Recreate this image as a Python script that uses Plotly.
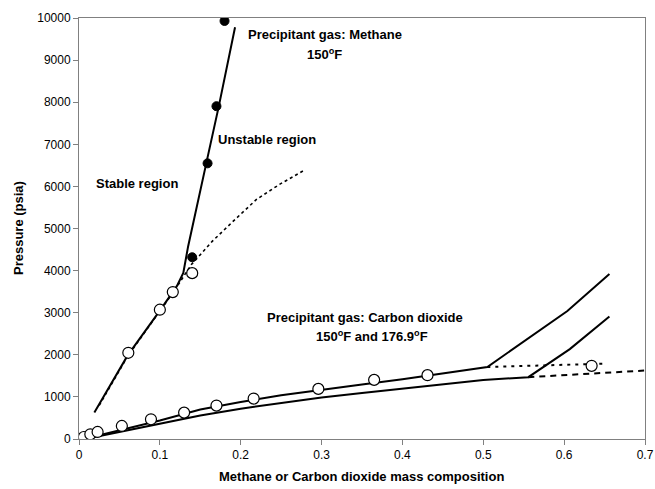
import plotly.graph_objects as go

# Methane data (150 F)
ch4_open_x = [0.061, 0.100, 0.116, 0.140]
ch4_open_y = [2048, 3071, 3490, 3940]
ch4_fill_x = [0.140, 0.159, 0.170, 0.180]
ch4_fill_y = [4317, 6548, 7905, 9930]
ch4_solid_x = [0.019, 0.06, 0.10, 0.116, 0.121, 0.129, 0.135, 0.158, 0.173, 0.193]
ch4_solid_y = [630, 1980, 3050, 3480, 3630, 3945, 4580, 6600, 7912, 9780]
ch4_dash_x = [0.025, 0.06, 0.10, 0.116, 0.139, 0.165, 0.193, 0.2195, 0.248, 0.279]
ch4_dash_y = [800, 1960, 3040, 3470, 4143, 4700, 5214, 5690, 6048, 6388]

# Carbon dioxide data (150 F and 176.9 F)
co2_open_x = [0.006, 0.014, 0.023, 0.053, 0.089, 0.130, 0.170, 0.216, 0.296, 0.365, 0.431, 0.634]
co2_open_y = [48, 112, 167, 310, 468, 627, 794, 960, 1190, 1405, 1516, 1738]
co2_up_x = [0.01, 0.05, 0.10, 0.15, 0.20, 0.25, 0.30, 0.35, 0.40, 0.45, 0.505, 0.604, 0.656]
co2_up_y = [20, 210, 440, 700, 880, 1040, 1175, 1295, 1420, 1555, 1710, 3040, 3920]
co2_lo_x = [0.01, 0.05, 0.10, 0.15, 0.20, 0.25, 0.30, 0.35, 0.40, 0.45, 0.50, 0.5557, 0.607, 0.656]
co2_lo_y = [10, 170, 370, 560, 720, 860, 985, 1095, 1200, 1300, 1400, 1469, 2135, 2912]
co2_up_dash_x = [0.505, 0.65]
co2_up_dash_y = [1710, 1790]
co2_lo_dash_x = [0.5557, 0.70]
co2_lo_dash_y = [1469, 1626]

x_ticks = [0, 0.1, 0.2, 0.3, 0.4, 0.5, 0.6, 0.7]
x_tick_labels = ["0", "0.1", "0.2", "0.3", "0.4", "0.5", "0.6", "0.7"]
y_ticks = [0, 1000, 2000, 3000, 4000, 5000, 6000, 7000, 8000, 9000, 10000]
y_tick_labels = ["0", "1000", "2000", "3000", "4000", "5000", "6000", "7000", "8000", "9000", "10000"]

FONT = "Arial, Liberation Sans, sans-serif"

fig = go.Figure()

def line(x, y, dash="solid", width=2):
    fig.add_trace(go.Scatter(x=x, y=y, mode="lines", showlegend=False,
                             line=dict(color="black", width=width, dash=dash),
                             hoverinfo="skip"))

line(ch4_dash_x, ch4_dash_y, dash="3px,3px", width=1.6)
line(ch4_solid_x, ch4_solid_y, width=2)
line(co2_up_x, co2_up_y, width=2)
line(co2_lo_x, co2_lo_y, width=2)
line(co2_up_dash_x, co2_up_dash_y, dash="3px,5px", width=2)
line(co2_lo_dash_x, co2_lo_dash_y, dash="6px,5px", width=2)

fig.add_trace(go.Scatter(x=co2_open_x, y=co2_open_y, mode="markers", showlegend=False,
                         marker=dict(size=11, color="white", line=dict(color="black", width=1.2))))
fig.add_trace(go.Scatter(x=ch4_open_x, y=ch4_open_y, mode="markers", showlegend=False,
                         marker=dict(size=11, color="white", line=dict(color="black", width=1.2))))
fig.add_trace(go.Scatter(x=ch4_fill_x, y=ch4_fill_y, mode="markers", showlegend=False,
                         marker=dict(size=9, color="black", line=dict(color="black", width=1))))

W, H = 655, 489
L, R, T, B = 79, 645, 18, 439     # plot area in pixels

def note(xp, yp, text, size=13, angle=0):
    fig.add_annotation(x=(xp - L) / (R - L), y=(B - yp) / (B - T), xref="paper", yref="paper",
                       text=text, showarrow=False, textangle=angle,
                       font=dict(family=FONT, size=size, color="black"),
                       xanchor="center", yanchor="middle")

note(325, 34, "<b>Precipitant gas: Methane</b>")
note(324, 54, "<b>150<sup>o</sup>F</b>")
note(267, 139, "<b>Unstable region</b>")
note(137, 183, "<b>Stable region</b>")
note(365, 318, "<b>Precipitant gas: Carbon dioxide</b>")
note(372, 336, "<b>150<sup>o</sup>F and 176.9<sup>o</sup>F</b>")
note(361, 476, "<b>Methane or Carbon dioxide mass composition</b>")
note(18, 228, "<b>Pressure (psia)</b>", angle=-90)

fig.update_layout(
    width=W, height=H,
    margin=dict(l=L, r=W - R, t=T, b=H - B),
    paper_bgcolor="white", plot_bgcolor="white",
    font=dict(family=FONT, size=12, color="black"),
    xaxis=dict(range=[0, 0.7], tickvals=x_ticks, ticktext=x_tick_labels, automargin=False,
               showgrid=False, zeroline=False, showline=True, linecolor="#808080",
               linewidth=1, mirror=True, ticks="outside", ticklen=5, tickcolor="#808080"),
    yaxis=dict(range=[0, 10000], tickvals=y_ticks, ticktext=y_tick_labels, automargin=False,
               showgrid=False, zeroline=False, showline=True, linecolor="#808080",
               linewidth=1, mirror=True, ticks="outside", ticklen=5, tickcolor="#808080"),
)

fig.write_html("out.html", config={"displayModeBar": False},
               post_script="document.body.style.margin='0';document.body.style.overflow='hidden';")
